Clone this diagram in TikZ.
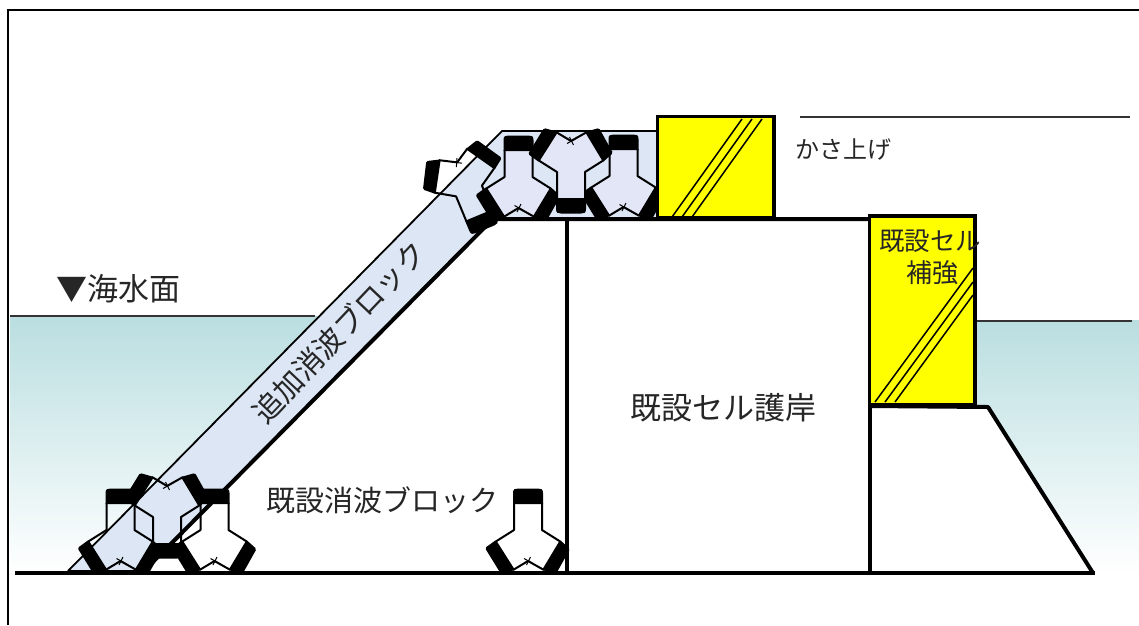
\documentclass[tikz,border=0pt]{standalone}
\usepackage{fontspec}
\setmainfont{Noto Sans CJK JP}
\definecolor{sea}{HTML}{BADEE0}
\definecolor{bandblue}{HTML}{DCE6F4}
\definecolor{blockblue}{HTML}{E2E6F7}
\definecolor{cellyellow}{HTML}{FFFF00}
\tikzset{
  x=1pt,y=-1pt,
  thickwall/.style={line width=4pt,draw=black,line cap=round,line join=round},
  thinline/.style={line width=1.2pt,draw=black!80},
  diag/.style={line width=1.5pt,draw=black},
  yellowbox/.style={fill=cellyellow,draw=black,line width=3.5pt,line join=miter},
  label/.style={inner sep=0pt,text=black!85},
  tetra/.pic={
    \path[pic actions] (-14,-27) -- (-14,0) -- (-33,12) -- (-15,40) -- (0,31) -- (16,40) -- (33,12) -- (14,0) -- (14,-27) -- cycle;
    \draw[line width=2pt,line join=round] (-14,-27) -- (-14,0) -- (-33,12);
    \draw[line width=2pt,line join=round] (14,-27) -- (14,0) -- (33,12);
    \draw[line width=2pt,line join=round] (-15,40) -- (0,31) -- (16,40);
    \draw[line width=1pt] (-4,28.5) -- (5,33.5) (2.5,27) -- (-1.5,35);
    \fill[black] (-15,-26) -- (-15,-37) .. controls (-15,-41) and (-13,-41.5) .. (-10,-41.5) -- (10,-41.5) .. controls (13,-41.5) and (15,-41) .. (15,-37) -- (15,-26) -- cycle;
    \fill[black,rounded corners=1.5pt] (-43,18) -- (-32,10) -- (-13,40) -- (-27,44) -- cycle;
    \fill[black,rounded corners=1.5pt] (32,10) -- (42,19) -- (28,44) -- (14,40) -- cycle;
  }
}
\begin{document}
\begin{tikzpicture}
\useasboundingbox (0,0) rectangle (1139,625);
\fill[white] (0,0) rectangle (1139,625);
% frame
\draw[line width=1.6pt,black] (8,625) -- (8,10) -- (1139,10);
% water
\shade[top color=sea,bottom color=white] (10,316) -- (320,316) -- (68,573) -- (10,573) -- cycle;
\shade[top color=sea,bottom color=white] (975,320) -- (1139,320) -- (1139,573) -- (1093,573) -- (988,407) -- (975,407) -- cycle;
\draw[thinline] (10,316) -- (315,316);
\draw[thinline] (975,321) -- (1132,321);
\draw[thinline] (800,117) -- (1130,117);
% added wave-dissipating block band
\fill[bandblue] (68,571) -- (502,131) -- (657,131) -- (657,219) -- (497,219) -- (485,227) -- (143,572) -- cycle;
\draw[line width=1.8pt,black,line join=round] (68,571) -- (502,131) -- (657,131);
\draw[line width=1.5pt,black] (68,571) -- (143,571);
% structures
\draw[thickwall] (143,572) -- (485,227) -- (497,219) -- (870,219);
\draw[thickwall] (567,219) -- (567,573);
\draw[thickwall] (870,219) -- (870,573);
\draw[thickwall] (870,406) -- (988,407) -- (1093,573);
\draw[line width=4pt,black] (15,573) -- (1095,573);
% blocks
\pic[fill=blockblue] at (518.5,177) {tetra};
\pic[fill=blockblue] at (623.5,176) {tetra};
\pic[fill=blockblue,yscale=-1] at (571,172) {tetra};
\pic[rotate=-157.5] at (469,191) {tetra};
\pic at (120.5,530) {tetra};
\pic at (214.5,530) {tetra};
\pic[yscale=-1] at (167,517) {tetra};
\pic at (528,530) {tetra};
% raised section
\draw[yellowbox] (657.5,116.5) rectangle (774,218);
\draw[diag] (672,217) -- (742,119);
\draw[diag] (682,217) -- (752,119);
\draw[diag] (692,217) -- (762,119);
% reinforcement
\draw[yellowbox] (869.5,216) rectangle (975,405);
\draw[diag] (875,402) -- (973,268);
\draw[diag] (885,402) -- (973,282);
\draw[diag] (895,402) -- (973,295);
% labels
\node[label,font=\fontsize{31}{36}\selectfont,anchor=west] (sea) at (56,289) {▼海水面};
\node[label,font=\fontsize{24}{29}\selectfont,anchor=west] (raise) at (795,149) {かさ上げ};
\node[label,font=\fontsize{25.5}{30}\selectfont,anchor=west] (cell1) at (879,241) {既設セル};
\node[label,font=\fontsize{26}{30}\selectfont,anchor=west] (cell2) at (906,273) {補強};
\node[label,font=\fontsize{31}{37}\selectfont] (wall) at (723,408) {既設セル護岸};
\node[label,font=\fontsize{29}{34}\selectfont] (old) at (382,500) {既設消波ブロック};
\node[label,font=\fontsize{29.5}{36}\selectfont,rotate=46.5] (added) at (339,332) {追加消波ブロック};
\end{tikzpicture}
\end{document}
